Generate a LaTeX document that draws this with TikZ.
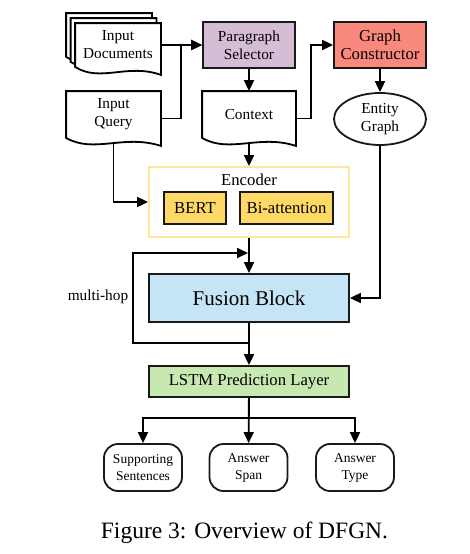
\documentclass[tikz,border=0pt]{standalone}
\usepackage{fontspec}
\setmainfont{Liberation Serif}
\usetikzlibrary{shapes}
\usetikzlibrary{positioning}
\usetikzlibrary{arrows.meta}

\definecolor{selpurple}{RGB}{213,190,213}
\definecolor{gcred}{RGB}{250,137,125}
\definecolor{encgold}{RGB}{255,217,102}
\definecolor{encline}{RGB}{255,229,153}
\definecolor{fusblue}{RGB}{197,228,246}
\definecolor{lstmgreen}{RGB}{200,232,178}

% outline of a document (wavy lower edge), from the anchors of a node
\newcommand{\docedge}[2]{(#1.north west) -- (#1.north east) -- ([yshift=-8pt]#1.south east)
  .. controls +(-0.4*#2,-12) and +(0.3*#2,16) .. (#1.south west) -- cycle}

\begin{document}
\begin{tikzpicture}[x=1pt,y=-1pt,line width=1.8pt,>={Triangle[length=11pt,width=10pt]}]
\tikzstyle{doc}=[inner sep=0pt,minimum width=93pt,minimum height=45pt,align=center,font=\fontsize{15.3}{18}\selectfont]
\tikzstyle{box}=[draw=black!90,inner sep=0pt,align=center,minimum width=92pt,minimum height=46pt,font=\fontsize{15.3}{18}\selectfont]
\tikzstyle{wide}=[box,minimum width=200pt]
\tikzstyle{mid}=[font=\fontsize{16.7}{18}\selectfont]
\tikzstyle{result}=[draw=black!90,rounded corners=14pt,minimum width=78pt,minimum height=47pt,inner sep=0pt,align=center,font=\fontsize{13.5}{17}\selectfont]
\useasboundingbox (0,0) rectangle (469,554);

% inputs
\node[doc,minimum width=84pt,minimum height=42pt] (D3) at (109,35) {};
\node[doc,minimum width=84pt,minimum height=42pt] (D2) at (113.5,40) {};
\node[doc,minimum width=84pt,minimum height=42pt] (D1) at (118,45) {};
\draw[fill=white] \docedge{D3}{84};
\draw[fill=white] \docedge{D2}{84};
\draw[fill=white] \docedge{D1}{84};
\node[doc,minimum width=84pt,minimum height=42pt] (Docs) at (D1.center) {Input\\Documents};
\node[doc] (Query) at (113.5,114.5) {Input\\Query};
\draw \docedge{Query}{93};

% selection and graph
\node[box,fill=selpurple] (Sel) at (249,45) {Paragraph\\Selector};
\node[doc,minimum width=92pt] (Ctx) at (249,114.5) {Context};
\draw \docedge{Ctx}{92};
\node[box,mid,fill=gcred] (GC) at (380,45) {Graph\\Constructor};
\node[ellipse,draw=black!90,minimum width=92pt,minimum height=52pt,inner sep=0pt,align=center,font=\fontsize{15.3}{18}\selectfont] (EG) at (380,119) {Entity\\Graph};

% encoder
\node[draw=encline,minimum width=200pt,minimum height=70pt] (Enc) at (249,202) {};
\node[mid] (EncT) at (249,180) {Encoder};
\node[box,mid,fill=encgold,minimum width=62pt,minimum height=32pt] (BERT) at (195,208) {BERT};
\node[box,mid,fill=encgold,minimum width=93pt,minimum height=32pt] (BiAtt) at (286.5,208) {Bi-attention};

% fusion and prediction
\node[wide,fill=fusblue,minimum height=48pt,font=\fontsize{21}{24}\selectfont] (Fus) at (249,298) {Fusion Block};
\node[font=\fontsize{15.3}{18}\selectfont] (Hop) at (98,297) {multi-hop};
\node[wide,mid,fill=lstmgreen,minimum height=31pt] (LSTM) at (249,381.5) {LSTM Prediction Layer};
\node[result] (Supp) at (143,467.5) {Supporting\\Sentences};
\node[result] (Span) at (248.5,467.5) {Answer\\Span};
\node[result] (Type) at (355,467.5) {Answer\\Type};

\node[anchor=base,font=\fontsize{23.5}{28}\selectfont] (Cap) at (244.5,538) {Figure 3: Overview of DFGN.};

% connectors
\draw[->] (Docs.east) -- (Sel.west);
\draw[->] ([yshift=-4pt]Query.east) -- ++(20,0) |- (Sel.west);
\draw[->] (Sel) -- (Ctx);
\draw[->] ([yshift=-4pt]Ctx.east) -- ++(15,0) |- (GC.west);
\draw[->] (GC) -- (EG);
\draw[->] ([yshift=-6pt]Query.south) |- (Enc.west);
\draw[->] ([yshift=-6pt]Ctx.south) -- (Enc.north);
\draw[->] (EG.south) |- (Fus.east);
\draw[->] (Enc) -- (Fus);
\draw[->] (Fus) -- (LSTM);
\coordinate (HopA) at (249,343);
\coordinate (HopB) at (248,253);
\draw[->] (HopA) -- ++(-116,0) |- (HopB);
\draw[->] (LSTM) -- (Span);
\draw[->] (LSTM.south) -- ++(0,20) -| (Supp.north);
\draw[->] (LSTM.south) -- ++(0,20) -| (Type.north);
\end{tikzpicture}
\end{document}
